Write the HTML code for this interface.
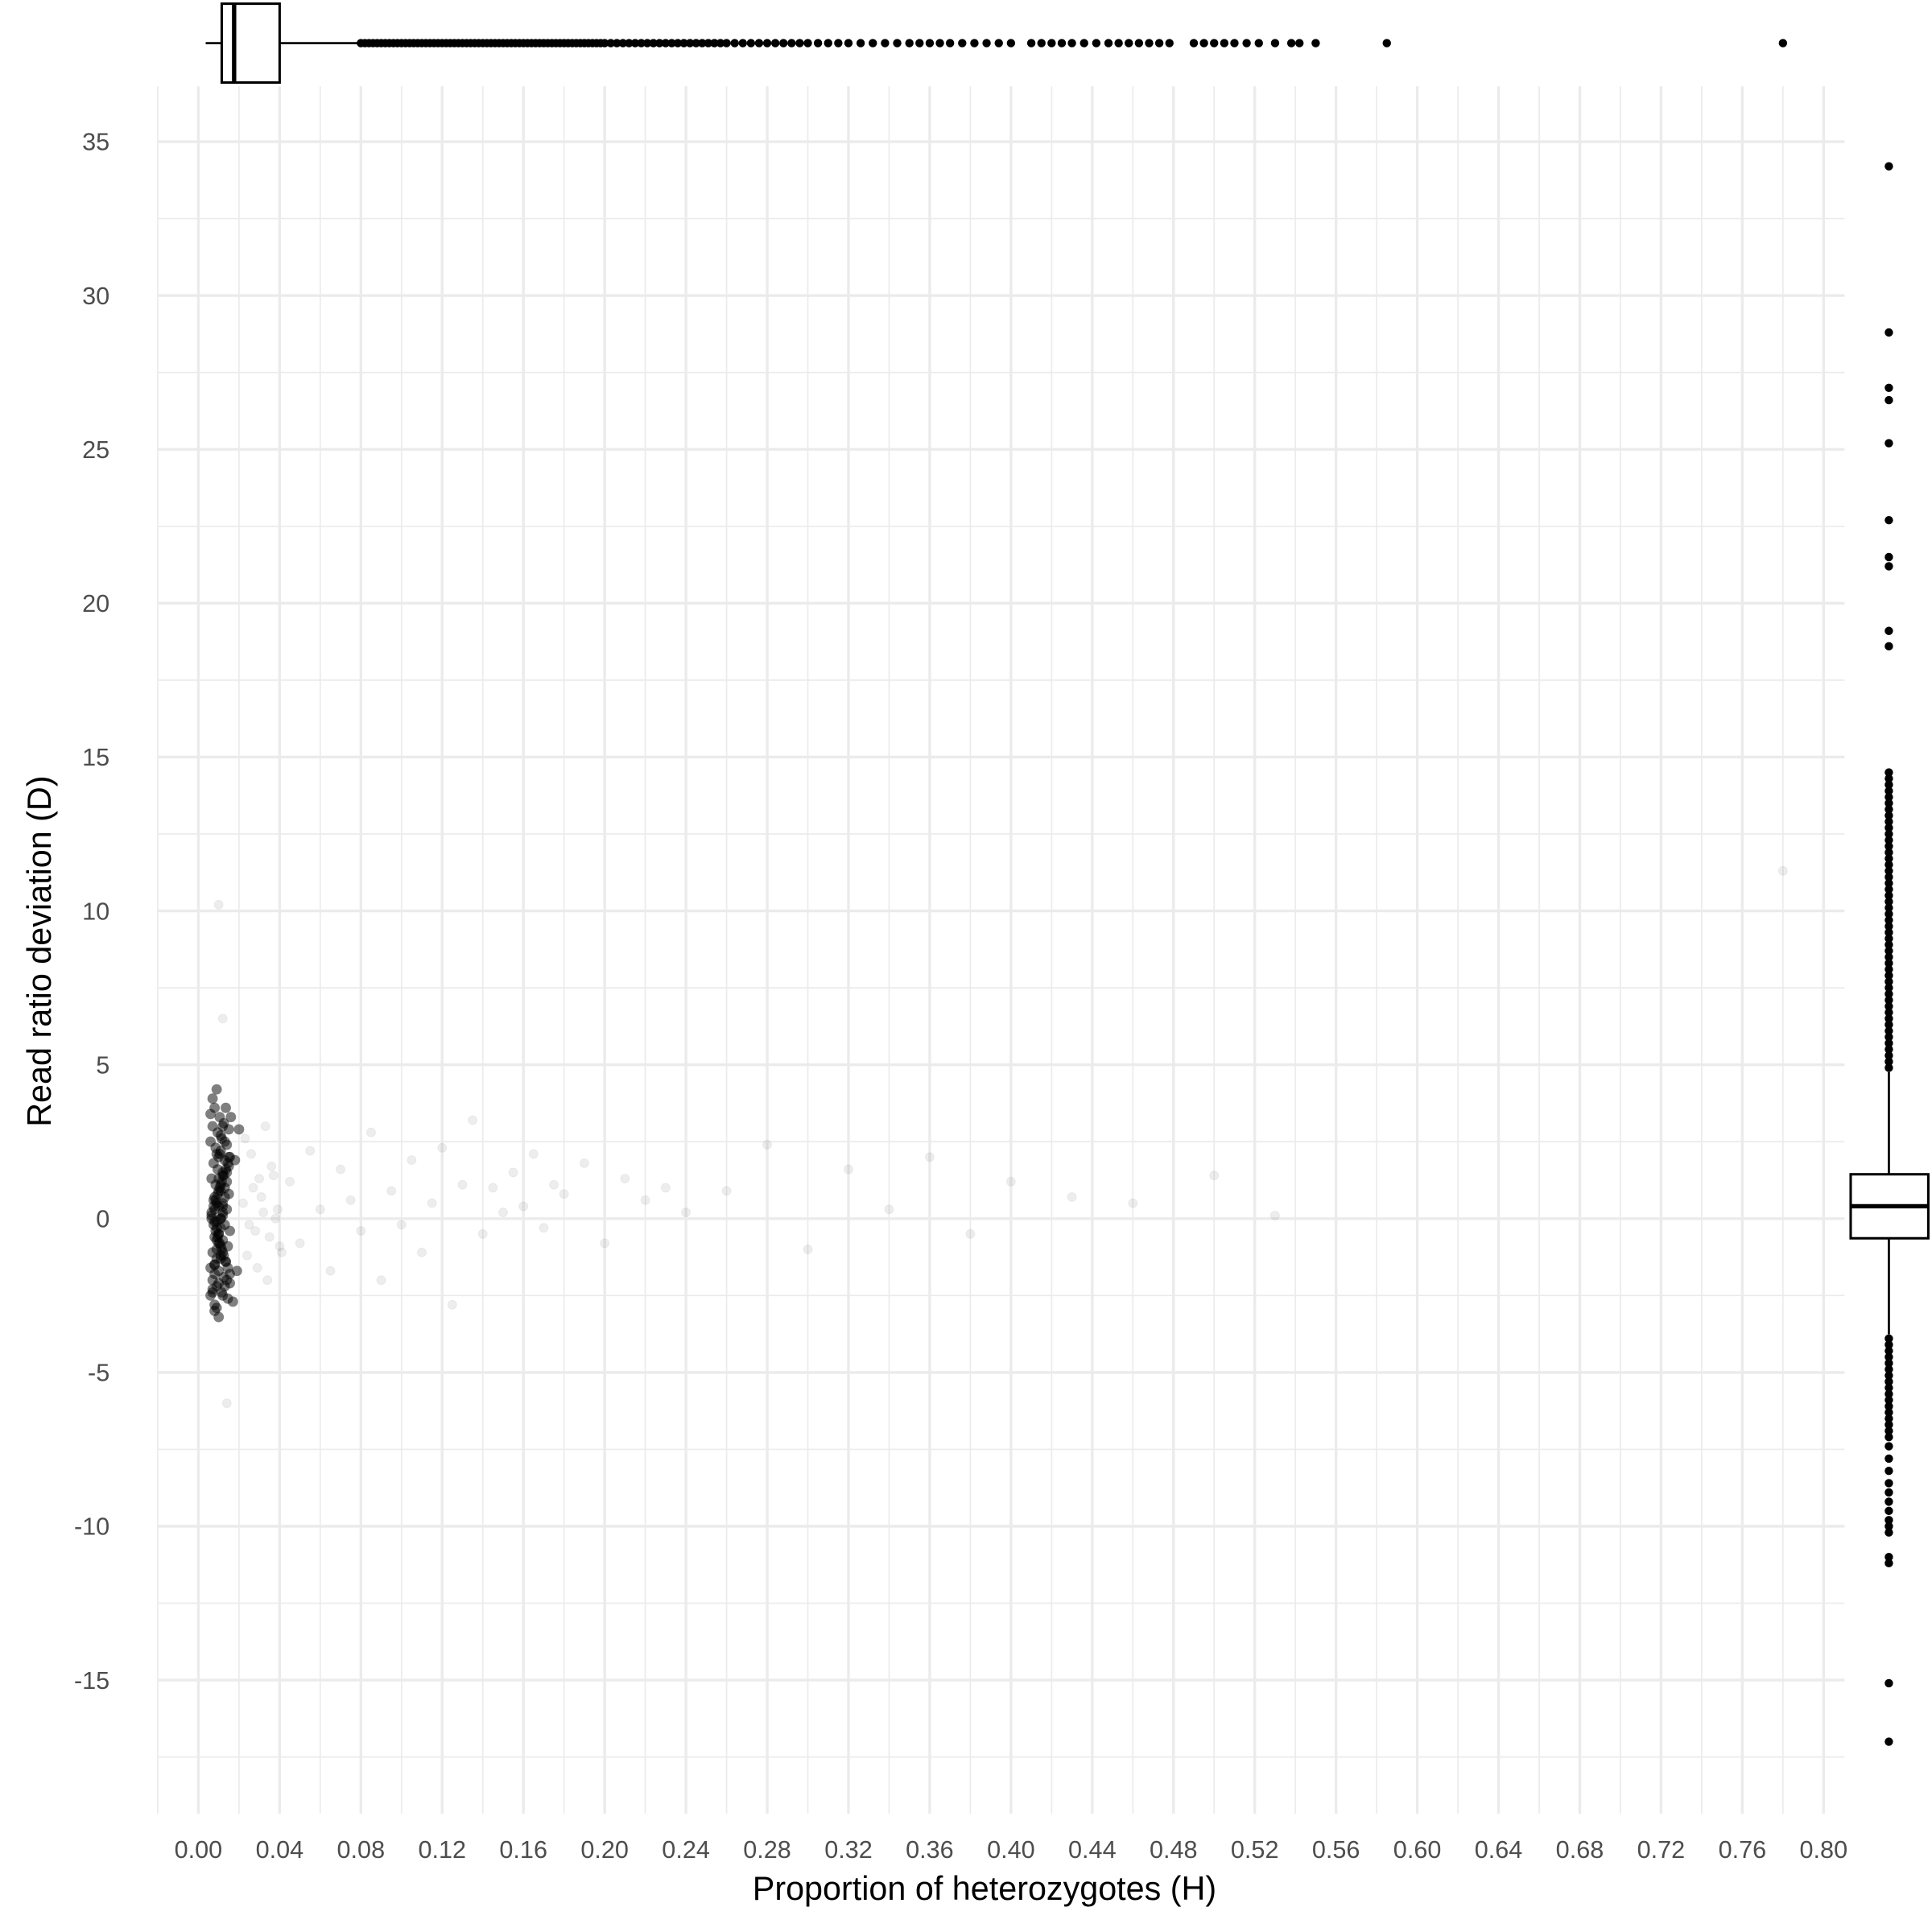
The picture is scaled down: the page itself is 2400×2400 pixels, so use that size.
<!DOCTYPE html>
<html><head><meta charset="utf-8"><style>
html,body{margin:0;padding:0;background:#fff}
svg{display:block}
text{font-family:"Liberation Sans",Arial,sans-serif}
</style></head><body>
<svg id="chart" width="2400" height="2400" viewBox="0 0 1568 1568" xmlns="http://www.w3.org/2000/svg">
<g id="grid"></g>
<g id="points"></g>
<g id="topbox"></g>
<g id="rightbox"></g>
<g id="axes"></g>
<text x="799" y="1542" font-size="27" text-anchor="middle" fill="#000">Proportion of heterozygotes (H)</text>
<text transform="translate(41,772) rotate(-90)" font-size="27" text-anchor="middle" fill="#000">Read ratio deviation (D)</text>
</svg>
<script>
const xTicks=[0,0.04,0.08,0.12,0.16,0.20,0.24,0.28,0.32,0.36,0.40,0.44,0.48,0.52,0.56,0.60,0.64,0.68,0.72,0.76,0.80];
const yTicks=[-15,-10,-5,0,5,10,15,20,25,30,35];
const blobH=[
0.006,0.007,0.008,0.009,0.010,0.011,0.012,0.013,0.014,0.015,0.006,0.007,0.008,0.009,0.010,0.011,0.012,0.013,0.014,0.015,
0.0065,0.0075,0.0085,0.0095,0.0105,0.0115,0.0125,0.0135,0.0145,0.0155,0.0065,0.0075,0.0085,0.0095,0.0105,0.0115,0.0125,0.0135,0.0145,0.0155,
0.006,0.007,0.008,0.009,0.010,0.011,0.012,0.013,0.014,0.015,0.006,0.007,0.008,0.009,0.010,0.011,0.012,0.013,0.014,0.015,
0.0065,0.0075,0.0085,0.0095,0.0105,0.0115,0.0125,0.0135,0.0145,0.0155,0.0065,0.0075,0.0085,0.0095,0.0105,0.0115,0.0125,0.0135,0.0145,0.0155,
0.008,0.009,0.010,0.011,0.012,0.008,0.009,0.010,0.011,0.012,0.008,0.009,0.010,0.011,0.012,0.008,0.009,0.010,0.011,0.012,
0.007,0.008,0.009,0.010,0.011,0.012,0.013,0.014,0.016,0.017,0.018,0.019,0.020,0.007,0.008,0.009,0.010,0.011,0.012,0.013];
const blobD=[
-2.5,-2.0,-1.5,-1.0,-0.5,0.0,0.5,1.0,1.5,2.0,2.5,3.0,-2.8,-2.2,-1.7,-1.2,-0.7,-0.2,0.3,0.8,
1.3,1.8,2.3,2.8,3.3,-2.4,-1.9,-1.4,-0.9,-0.4,0.1,0.6,1.1,1.6,2.1,2.6,3.1,3.6,-2.6,-2.1,
-1.6,-1.1,-0.6,-0.1,0.4,0.9,1.4,1.9,2.4,2.9,3.4,-2.3,-1.8,-1.3,-0.8,-0.3,0.2,0.7,1.2,1.7,
0.0,0.4,-0.4,0.8,-0.8,1.2,-1.2,1.6,-1.6,2.0,0.2,-0.2,0.6,-0.6,1.0,-1.0,1.4,-1.4,1.8,-1.8,
0.3,-0.3,0.9,-0.9,1.5,-1.5,2.1,-2.1,2.7,0.1,-0.1,0.5,-0.5,1.1,-1.1,0.7,-0.7,1.3,0.0,0.4,
3.9,-3.0,4.2,-3.2,2.2,-2.5,2.5,-2.0,3.3,-2.7,1.9,-1.7,2.9,-2.4,3.6,-2.9,2.0,-1.3,3.0,-2.2];
const sH=[0.022,0.024,0.026,0.028,0.030,0.032,0.034,0.036,0.038,0.040,
0.023,0.025,0.027,0.029,0.031,0.033,0.035,0.037,0.039,0.041,
0.045,0.050,0.055,0.060,0.065,0.070,0.075,0.080,0.085,0.090,
0.095,0.10,0.105,0.11,0.115,0.12,0.125,0.13,0.135,0.14,
0.145,0.15,0.155,0.16,0.165,0.17,0.175,0.18,0.19,0.20,
0.21,0.22,0.23,0.24,0.26,0.28,0.30,0.32,0.34,0.36,
0.38,0.40,0.43,0.46,0.50,0.53,0.012,0.010,0.014,0.78];
const sD=[0.5,-1.2,2.1,-0.4,1.3,0.2,-2.0,1.7,0.0,-0.9,
2.6,-0.2,1.0,-1.6,0.7,3.0,-0.6,1.4,0.3,-1.1,
1.2,-0.8,2.2,0.3,-1.7,1.6,0.6,-0.4,2.8,-2.0,
0.9,-0.2,1.9,-1.1,0.5,2.3,-2.8,1.1,3.2,-0.5,
1.0,0.2,1.5,0.4,2.1,-0.3,1.1,0.8,1.8,-0.8,
1.3,0.6,1.0,0.2,0.9,2.4,-1.0,1.6,0.3,2.0,
-0.5,1.2,0.7,0.5,1.4,0.1,6.5,10.2,-6.0,11.3];
const bxH={lo:0.0036,q1:0.0115,med:0.0176,q3:0.04,hi:0.079};
const outH=[0.080,0.082,0.084,0.086,0.088,0.090,0.092,0.094,0.096,0.098,0.100,0.102,0.104,0.106,0.108,0.110,0.112,0.114,0.116,0.118,0.120,0.122,0.124,0.126,0.128,0.130,0.132,0.134,0.136,0.138,0.140,0.142,0.144,0.146,0.148,0.150,0.152,0.154,0.156,0.158,0.160,0.162,0.164,0.166,0.168,0.170,0.172,0.174,0.176,0.178,0.180,0.182,0.184,0.186,0.188,0.190,0.192,0.194,0.196,0.198,0.200,0.203,0.206,0.209,0.212,0.215,0.218,0.221,0.224,0.227,0.230,0.233,0.236,0.239,0.242,0.245,0.248,0.251,0.254,0.257,0.260,0.264,0.268,0.272,0.276,0.280,0.284,0.288,0.292,0.296,0.300,0.305,0.31,0.315,0.32,0.326,0.332,0.338,0.344,0.35,0.355,0.36,0.365,0.37,0.376,0.382,0.388,0.394,0.40,0.41,0.415,0.42,0.425,0.43,0.436,0.442,0.448,0.453,0.458,0.463,0.468,0.473,0.478,0.49,0.495,0.5,0.505,0.51,0.516,0.522,0.53,0.538,0.542,0.55,0.585,0.78];
const bxD={lo:-3.76,q1:-0.64,med:0.4,q3:1.44,hi:4.76};
const outD=[34.2,28.8,27,26.6,25.2,22.7,21.5,21.2,19.1,18.6,14.5,14.3,14.1,13.9,13.7,13.5,13.3,13.1,12.9,12.7,12.5,12.3,12.1,11.9,11.7,11.5,11.3,11.1,10.9,10.7,10.5,10.3,10.1,9.9,9.7,9.5,9.3,9.1,8.9,8.7,8.5,8.3,8.1,7.9,7.7,7.5,7.3,7.1,6.9,6.7,6.5,6.3,6.1,5.9,5.7,5.5,5.3,5.1,4.9,
-3.9,-4.1,-4.3,-4.5,-4.7,-4.9,-5.1,-5.3,-5.5,-5.7,-5.9,-6.1,-6.3,-6.5,-6.7,-6.9,-7.1,-7.4,-7.8,-8.2,-8.6,-8.9,-9.2,-9.5,-9.8,-10.0,-10.2,-11.0,-11.2,-15.1,-17.0];

const NS='http://www.w3.org/2000/svg';
const sx=v=>161+v*(1480-161)/0.8;
const sy=v=>989-v*(989-115)/35;
const PL=128,PR=1497,PT=70,PB=1472;
function mk(tag,attrs,parent){const e=document.createElementNS(NS,tag);for(const k in attrs)e.setAttribute(k,attrs[k]);parent.appendChild(e);return e;}
const grid=document.getElementById('grid');
for(let i=0;i<xTicks.length;i++){
  const v=xTicks[i];
  if(i<xTicks.length-1){const m=(v+xTicks[i+1])/2;
    const mn=mk('line',{x1:sx(m),x2:sx(m),y1:PT,y2:PB,stroke:'#ebebeb','stroke-width':1.1},grid);
    
    }
  const l=mk('line',{x1:sx(v),x2:sx(v),y1:PT,y2:PB,stroke:'#ebebeb','stroke-width':2.2},grid);
  
  
}
mk('line',{x1:sx(-0.02),x2:sx(-0.02),y1:PT,y2:PB,stroke:'#ebebeb','stroke-width':1.1},grid);
for(let v=-17.5;v<=37.5;v+=5){if(sy(v)>PT&&sy(v)<PB){const mn=mk('line',{x1:PL,x2:PR,y1:sy(v),y2:sy(v),stroke:'#ebebeb','stroke-width':1.1},grid);
  
  }}
const axes=document.getElementById('axes');
for(const v of yTicks){
  const l=mk('line',{x1:PL,x2:PR,y1:sy(v),y2:sy(v),stroke:'#ebebeb','stroke-width':2.2},grid);
  
  
  const t=mk('text',{x:89,y:sy(v)+7,'font-size':20,'text-anchor':'end',fill:'#4d4d4d'},axes);
  t.textContent=String(v);
  
  
}
for(const v of xTicks){
  const t=mk('text',{x:sx(v),y:1508,'font-size':20,'text-anchor':'middle',fill:'#4d4d4d'},axes);
  t.textContent=v.toFixed(2);
  
  
}
const pts=document.getElementById('points');
for(let i=0;i<sH.length;i++){
  const c=mk('circle',{cx:sx(sH[i]),cy:sy(sD[i]),r:3.6,fill:'#000','fill-opacity':0.07,stroke:'#000','stroke-opacity':0.05,'stroke-width':0.6},pts);
  
  
}
for(let i=0;i<blobH.length;i++){
  const c=mk('circle',{cx:sx(blobH[i]),cy:sy(blobD[i]),r:4.2,fill:'#000','fill-opacity':0.5},pts);
  
  
}
const tb=document.getElementById('topbox');const cy=35;
mk('line',{x1:sx(bxH.lo),x2:sx(bxH.q1),y1:cy,y2:cy,stroke:'#000','stroke-width':1.8},tb);
mk('line',{x1:sx(bxH.q3),x2:sx(bxH.hi),y1:cy,y2:cy,stroke:'#000','stroke-width':1.8},tb);
const r1=mk('rect',{x:sx(bxH.q1),y:3,width:sx(bxH.q3)-sx(bxH.q1),height:64,fill:'#fff',stroke:'#000','stroke-width':2},tb);


mk('line',{x1:sx(bxH.med),x2:sx(bxH.med),y1:3,y2:67,stroke:'#000','stroke-width':3.5},tb);
for(const v of outH){const c=mk('circle',{cx:sx(v),cy:cy,r:3.4,fill:'#000'},tb);
  
  }
const rb=document.getElementById('rightbox');const cx=1533;
mk('line',{x1:cx,x2:cx,y1:sy(bxD.hi),y2:sy(bxD.q3),stroke:'#000','stroke-width':1.8},rb);
mk('line',{x1:cx,x2:cx,y1:sy(bxD.q1),y2:sy(bxD.lo),stroke:'#000','stroke-width':1.8},rb);
const r2=mk('rect',{x:1502,y:sy(bxD.q3),width:63,height:sy(bxD.q1)-sy(bxD.q3),fill:'#fff',stroke:'#000','stroke-width':2},rb);


mk('line',{x1:1502,x2:1565,y1:sy(bxD.med),y2:sy(bxD.med),stroke:'#000','stroke-width':3.5},rb);
for(const v of outD){const c=mk('circle',{cx:cx,cy:sy(v),r:3.4,fill:'#000'},rb);
  
  }
</script>
</body></html>
